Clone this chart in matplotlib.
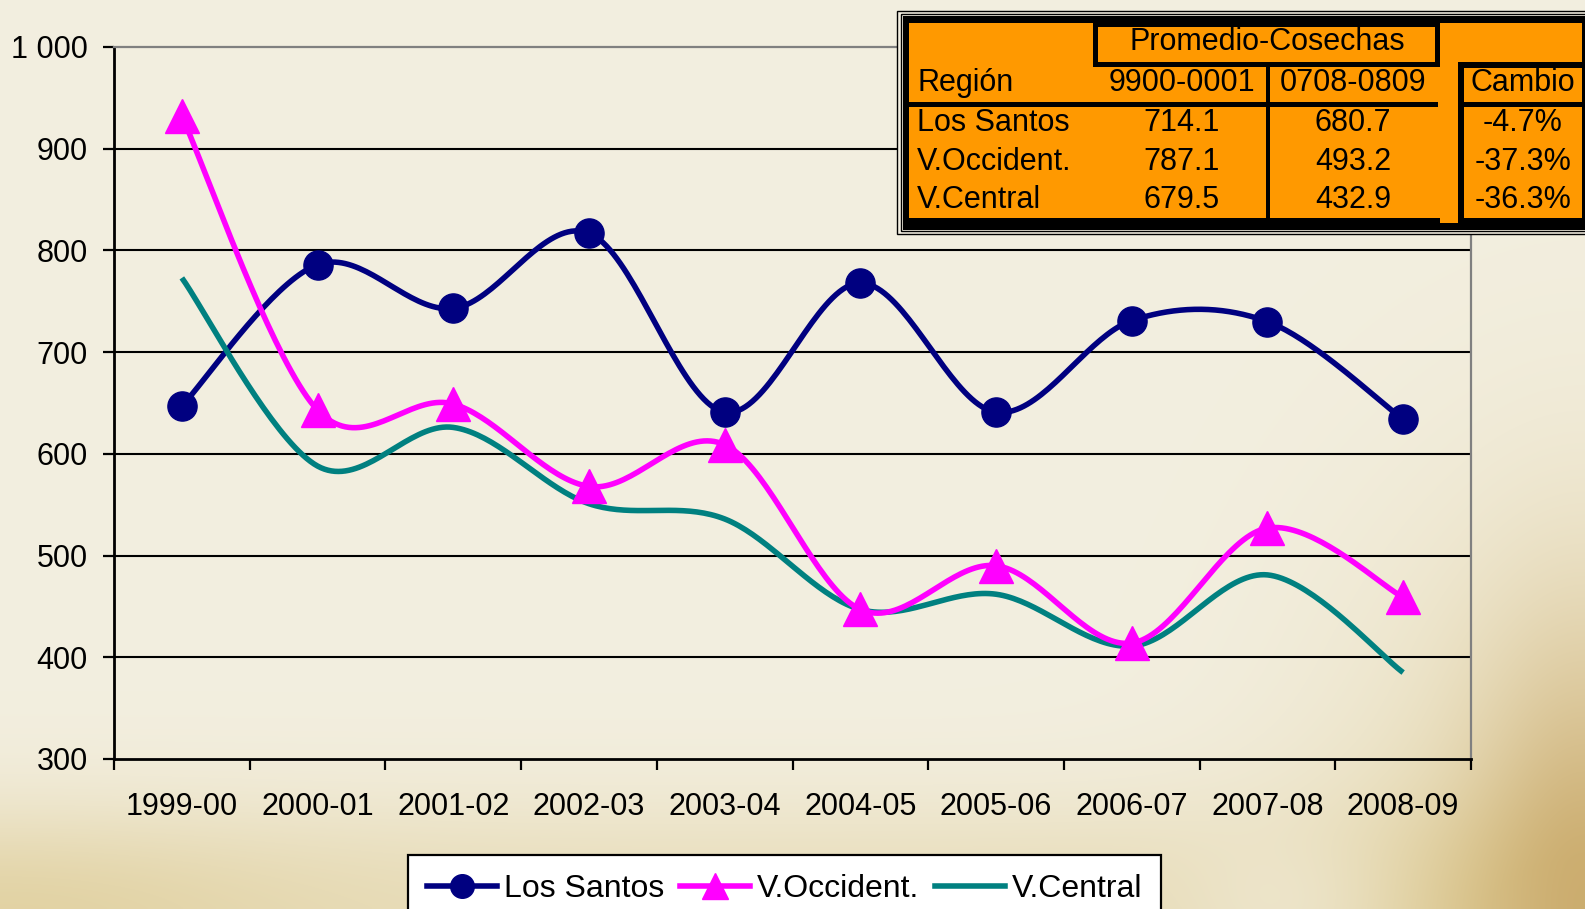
import numpy as np
import matplotlib
matplotlib.use("Agg")
import matplotlib.pyplot as plt
from matplotlib.lines import Line2D
from matplotlib.patches import Rectangle
from matplotlib.ticker import FuncFormatter, FixedLocator

# ---------------- data ----------------
seasons = ["1999-00", "2000-01", "2001-02", "2002-03", "2003-04",
           "2004-05", "2005-06", "2006-07", "2007-08", "2008-09"]
los_santos = [647, 786, 743, 817, 641, 768, 641, 731, 730, 634]
v_occident = [932, 643, 649, 568, 609, 447, 490, 414, 527, 459]
v_central = [773, 588, 626, 551, 536, 447, 462, 411, 481, 385]

series_names = ["Los Santos", "V.Occident.", "V.Central"]
table_header = ["Región", "9900-0001", "0708-0809", "Cambio"]
table_group = "Promedio-Cosechas"
table_regions = ["Los Santos", "V.Occident.", "V.Central"]
table_avg_start = ["714.1", "787.1", "679.5"]
table_avg_end = ["680.7", "493.2", "432.9"]
table_change = ["-4.7%", "-37.3%", "-36.3%"]

C_NAVY = "#000080"
C_MAG = "#FF00FF"
C_TEAL = "#008080"
C_ORANGE = "#FF9900"

FONT = "Liberation Sans"
plt.rcParams["font.family"] = [FONT, "DejaVu Sans"]

W, H = 1585, 909
fig = plt.figure(figsize=(W / 100, H / 100), dpi=100)

# ---------------- background (parchment-like gradient) ----------------
bg = fig.add_axes([0, 0, 1, 1], zorder=0)
yy, xx = np.mgrid[0:H:3, 0:W:3].astype(float)
cream = np.array([243, 239, 224]) / 255.0
tan = np.array([222, 204, 150]) / 255.0
brown = np.array([196, 160, 95]) / 255.0
w1 = 1 / (1 + np.exp(-(yy - 820) / 35.0)) * 0.55
w1 += np.exp(-((xx - 1585) ** 2 / 260.0 ** 2 + (yy - 909) ** 2 / 380.0 ** 2)) * 0.6
w1 += np.exp(-((xx - 0) ** 2 / 300.0 ** 2 + (yy - 909) ** 2 / 90.0 ** 2)) * 0.3
w1 -= np.exp(-((xx - 1300) ** 2 / 120.0 ** 2 + (yy - 909) ** 2 / 80.0 ** 2)) * 0.35
w1 = np.clip(w1, 0, 1)
w2 = np.exp(-((xx - 1585) ** 2 / 110.0 ** 2 + (yy - 909) ** 2 / 260.0 ** 2)) * 0.7
w2 = np.clip(w2, 0, 1)
img = cream * (1 - w1[..., None]) + tan * w1[..., None]
img = img * (1 - w2[..., None]) + brown * w2[..., None]
bg.imshow(img, extent=[0, W, H, 0], aspect="auto", interpolation="bilinear")
bg.set_xlim(0, W)
bg.set_ylim(H, 0)
bg.axis("off")

# ---------------- main axes ----------------
L, R, T, B = 114, 1471, 47, 759
ax = fig.add_axes([L / W, 1 - B / H, (R - L) / W, (B - T) / H], zorder=2)
ax.set_facecolor("none")


def smooth(xs, ys, n=40):
    """Bezier smoothing through the given points (Excel-like)."""
    P = np.column_stack([xs, ys]).astype(float)
    m = len(P)
    out = []
    for i in range(m - 1):
        p0 = P[max(i - 1, 0)]
        p1 = P[i]
        p2 = P[i + 1]
        p3 = P[min(i + 2, m - 1)]
        c1 = p1 + (p2 - p0) / 6.0
        c2 = p2 - (p3 - p1) / 6.0
        t = np.linspace(0, 1, n)[:, None]
        seg = ((1 - t) ** 3) * p1 + 3 * ((1 - t) ** 2) * t * c1 + 3 * (1 - t) * t ** 2 * c2 + t ** 3 * p2
        if i > 0:
            seg = seg[1:]
        out.append(seg)
    o = np.vstack(out)
    return o[:, 0], o[:, 1]


xpos = np.arange(len(seasons)) + 0.5
LW = 4.0

sx, sy = smooth(xpos, los_santos)
ax.plot(sx, sy, color=C_NAVY, lw=LW, solid_capstyle="butt", zorder=3)
ax.plot(xpos, los_santos, linestyle="none", marker="o", ms=21, color=C_NAVY, zorder=3.5)

sx, sy = smooth(xpos, v_central)
ax.plot(sx, sy, color=C_TEAL, lw=LW, solid_capstyle="butt", zorder=4)

sx, sy = smooth(xpos, v_occident)
ax.plot(sx, sy, color=C_MAG, lw=LW, solid_capstyle="butt", zorder=5)
ax.plot(xpos, v_occident, linestyle="none", marker="^", ms=24, color=C_MAG, zorder=5.5)

ax.set_xlim(0, len(seasons))
ax.set_ylim(300, 1000)

ax.xaxis.set_major_locator(FixedLocator(np.arange(len(seasons) + 1)))
ax.xaxis.set_major_formatter(FuncFormatter(lambda v, p: ""))
ax.xaxis.set_minor_locator(FixedLocator(xpos))
ax.set_xticklabels(seasons, minor=True)
ax.tick_params(axis="x", which="major", direction="out", length=8, width=1.6, color="black")
ax.tick_params(axis="x", which="minor", length=0, pad=24, labelsize=22)

ax.set_yticks(np.arange(300, 1001, 100))
ax.yaxis.set_major_formatter(FuncFormatter(lambda v, p: f"{int(v):,}".replace(",", " ")))
ax.tick_params(axis="y", direction="out", length=8, width=1.6, color="black", pad=11, labelsize=22)

for v in range(400, 1000, 100):
    ax.axhline(v, color="black", lw=1.5, zorder=1)

ax.spines["left"].set_color("black")
ax.spines["left"].set_linewidth(2.0)
ax.spines["bottom"].set_color("black")
ax.spines["bottom"].set_linewidth(2.0)
ax.spines["top"].set_color("#808080")
ax.spines["top"].set_linewidth(1.6)
ax.spines["right"].set_color("#808080")
ax.spines["right"].set_linewidth(1.6)

# ---------------- legend ----------------
handles = [
    Line2D([], [], color=C_NAVY, lw=LW, marker="o", ms=17),
    Line2D([], [], color=C_MAG, lw=LW, marker="^", ms=19),
    Line2D([], [], color=C_TEAL, lw=LW),
]
leg = fig.legend(handles, series_names, loc="upper left",
                 bbox_to_anchor=(408 / W, 1 - 855 / H), bbox_transform=fig.transFigure,
                 ncol=3, fontsize=23, frameon=True, fancybox=False, framealpha=1,
                 edgecolor="black", facecolor="white", handlelength=2.2,
                 handletextpad=0.2, columnspacing=0.5, borderpad=0.6,
                 borderaxespad=0)
leg.get_frame().set_linewidth(1.6)
leg.set_zorder(6)

# ---------------- table overlay ----------------
ov = fig.add_axes([0, 0, 1, 1], zorder=7)
ov.set_xlim(0, W)
ov.set_ylim(H, 0)
ov.axis("off")
ov.set_facecolor("none")


def box(x0, y0, x1, y1, color, z=1):
    ov.add_patch(Rectangle((x0, y0), x1 - x0, y1 - y0, facecolor=color, edgecolor="none", zorder=z))


# outer thin double line
ov.add_patch(Rectangle((897, 11), 720, 223, facecolor="#F4F0E2", edgecolor="black", lw=1.0, zorder=1))
ov.add_patch(Rectangle((900.5, 14), 720, 217, facecolor="none", edgecolor="black", lw=1.0, zorder=1.2))
# thick black frame
box(903, 16, 1590, 230, "black", 1.5)
# orange fill
box(909, 23, 1582, 218, C_ORANGE, 2)
box(1440, 218, 1458, 223, C_ORANGE, 2)
# Promedio box borders
box(1093, 23, 1440, 27, "black", 3)
box(1093, 23, 1098, 67, "black", 3)
box(1435, 23, 1440, 67, "black", 3)
box(1093, 62, 1440, 67, "black", 3)
# header underline
box(909, 102, 1438, 107, "black", 3)
# vertical divider
box(1266, 67, 1270, 218, "black", 3)
# Cambio box
box(1458, 62, 1464, 230, "black", 3)
box(1458, 62, 1585, 68, "black", 3)
box(1464, 102, 1585, 107, "black", 3)
box(1582, 62, 1590, 230, "black", 3)

TFS = 22
ov.text(1267, 42, table_group, ha="center", va="center", fontsize=TFS, zorder=4)
row_y = [83, 123, 162, 200]
ov.text(917, row_y[0], table_header[0], ha="left", va="center", fontsize=TFS, zorder=4)
ov.text(1182, row_y[0], table_header[1], ha="center", va="center", fontsize=TFS, zorder=4)
ov.text(1353, row_y[0], table_header[2], ha="center", va="center", fontsize=TFS, zorder=4)
ov.text(1523, row_y[0], table_header[3], ha="center", va="center", fontsize=TFS, zorder=4)
for i in range(3):
    y = row_y[i + 1]
    ov.text(917, y, table_regions[i], ha="left", va="center", fontsize=TFS, zorder=4)
    ov.text(1182, y, table_avg_start[i], ha="center", va="center", fontsize=TFS, zorder=4)
    ov.text(1353, y, table_avg_end[i], ha="center", va="center", fontsize=TFS, zorder=4)
    ov.text(1523, y, table_change[i], ha="center", va="center", fontsize=TFS, zorder=4)

fig.savefig("out.png", dpi=100)
